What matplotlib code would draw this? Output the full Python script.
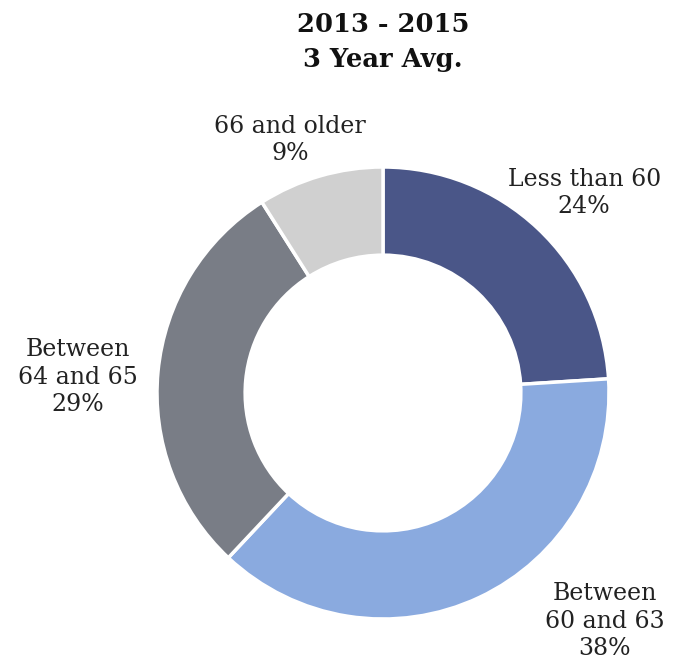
import matplotlib
matplotlib.use("Agg")
import matplotlib.pyplot as plt

categories = ["Less than 60", "Between\n60 and 63", "Between\n64 and 65", "66 and older"]
shares = [24, 38, 29, 9]
colors = ["#4a5688", "#8aaadf", "#797d86", "#d0d0d0"]
label_xy = [(0.89, 0.885), (0.98, -1.01), (-1.35, 0.07), (-0.41, 1.12)]

plt.rcParams["font.family"] = ["DejaVu Serif"]

W, H = 682, 666
fig = plt.figure(figsize=(W / 100, H / 100), dpi=100)
cx, cy, r = 383, 273, 226
ax = fig.add_axes([(cx - r) / W, (cy - r) / H, 2 * r / W, 2 * r / H])

ax.pie(shares, colors=colors, startangle=90, counterclock=False, radius=1.0,
       wedgeprops=dict(width=0.39, edgecolor="white", linewidth=2.5))
ax.set_xlim(-1, 1)
ax.set_ylim(-1, 1)
ax.set_aspect("equal")
ax.axis("off")

for name, val, (x, y) in zip(categories, shares, label_xy):
    ax.text(x, y, f"{name}\n{val}%", ha="center", va="center", fontsize=17,
            color="#222222", linespacing=1.25, clip_on=False)

fig.text(383 / W, 1 - 42 / H, "2013 - 2015\n3 Year Avg.", ha="center", va="center",
         fontsize=18.5, fontweight="bold", linespacing=1.55, color="#111111")

fig.savefig("out.png", dpi=100)
